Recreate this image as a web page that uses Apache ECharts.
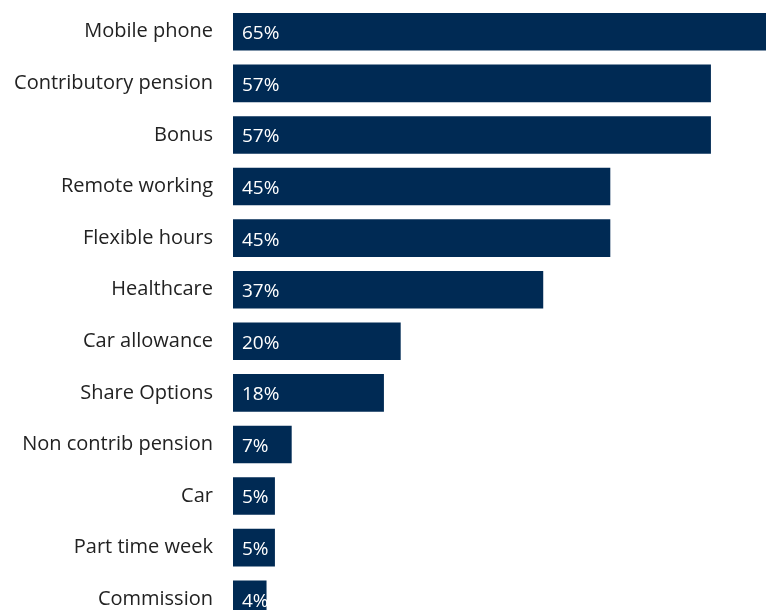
<!DOCTYPE html>
<html>
<head>
<meta charset="utf-8">
<script src="https://cdn.jsdelivr.net/npm/echarts@6/dist/echarts.min.js"></script>
<style>
html,body{margin:0;padding:0;background:#fff;}
#chart{width:766px;height:610px;}
</style>
</head>
<body>
<div id="chart"></div>
<script>
const categories = ["Mobile phone","Contributory pension","Bonus","Remote working","Flexible hours","Healthcare","Car allowance","Share Options","Non contrib pension","Car","Part time week","Commission"];
const values = [65,57,57,45,45,37,20,18,7,5,5,4];

const chart = echarts.init(document.getElementById('chart'));
chart.setOption({
  animation: false,
  grid: { left: 233, top: 6, width: 545, height: 619, containLabel: false, outerBoundsMode: 'none' },
  xAxis: { type: 'value', min: 0, max: 65, show: false, splitLine: { show: false } },
  yAxis: {
    type: 'category', data: categories, inverse: true,
    axisLine: { show: false }, axisTick: { show: false },
    axisLabel: { margin: 20, fontSize: 20, color: '#222222', fontFamily: 'Open Sans', verticalAlign: 'middle', padding: [0,0,4,0] }
  },
  series: [{
    type: 'bar', data: values, barCategoryGap: '27%',
    itemStyle: { color: '#002a54' },
    label: { show: true, position: 'insideLeft', distance: 9, formatter: '{c}%', color: '#ffffff', fontSize: 19, fontFamily: 'Open Sans', offset: [0,2] }
  }]
});
</script>
</body>
</html>
